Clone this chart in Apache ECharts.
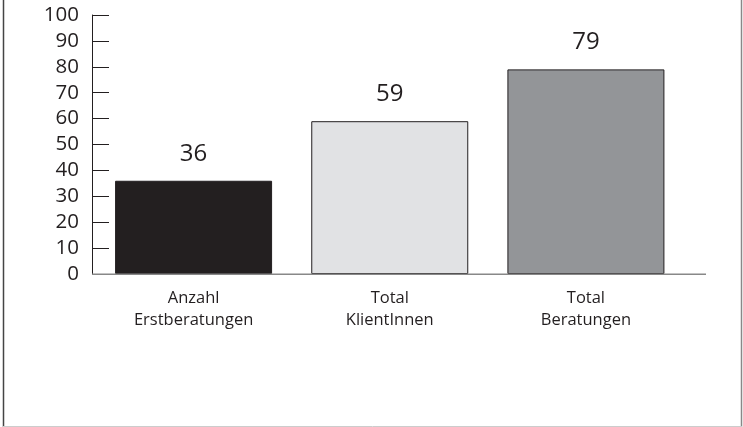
<!DOCTYPE html>
<html><head><meta charset="utf-8">
<script src="https://cdn.jsdelivr.net/npm/echarts@6/dist/echarts.min.js"></script>
<style>html,body{margin:0;padding:0;background:#fff}#c{width:743px;height:427px}</style>
</head><body><div id="c"></div>
<script>
const categories = ['Anzahl\nErstberatungen', 'Total\nKlientInnen', 'Total\nBeratungen'];
const values = [36, 59, 79];
const barColors = ['#231f20', '#e1e2e4', '#939598'];
const yTicks = [0, 100, 10];

const chart = echarts.init(document.getElementById('c'), null, {renderer: 'canvas'});
const font = '"Open Sans", "Noto Sans", sans-serif';
chart.setOption({
  animation: false,
  backgroundColor: '#fff',
  grid: {left: 95.5, right: 59, top: 15, bottom: 153, containLabel: false},
  graphic: [
    {type: 'line', shape: {x1: 3.5, y1: 0, x2: 3.5, y2: 427}, style: {stroke: '#444', lineWidth: 1.5}},
    {type: 'line', shape: {x1: 741.5, y1: 0, x2: 741.5, y2: 427}, style: {stroke: '#888', lineWidth: 1.5}},
    {type: 'line', shape: {x1: 3, y1: 426.5, x2: 742, y2: 426.5}, style: {stroke: '#ccc', lineWidth: 1}},
    {type: 'line', z: 5, shape: {x1: 92, y1: 274.25, x2: 706, y2: 274.25}, style: {stroke: '#888', lineWidth: 1.5}}
  ],
  xAxis: {
    type: 'category', data: categories,
    axisLine: {show: false},
    axisTick: {show: false},
    axisLabel: {color: '#231f20', fontFamily: font, fontSize: 16.5, lineHeight: 22, margin: 13}
  },
  yAxis: {
    type: 'value', min: yTicks[0], max: yTicks[1], interval: yTicks[2],
    offset: 3.5,
    axisLine: {show: true, lineStyle: {color: '#231f20', width: 1}},
    axisTick: {show: true, inside: true, length: 17, lineStyle: {color: '#231f20', width: 1}},
    splitLine: {show: false},
    axisLabel: {color: '#231f20', fontFamily: font, fontSize: 20.5, margin: 13}
  },
  series: [{
    type: 'bar', barWidth: 157,
    data: values.map((v, i) => ({value: v, itemStyle: {color: barColors[i]}})),
    itemStyle: {borderColor: '#231f20', borderWidth: 1},
    label: {show: true, position: 'top', distance: 15, color: '#231f20', fontFamily: font, fontSize: 24}
  }]
});
</script></body></html>
